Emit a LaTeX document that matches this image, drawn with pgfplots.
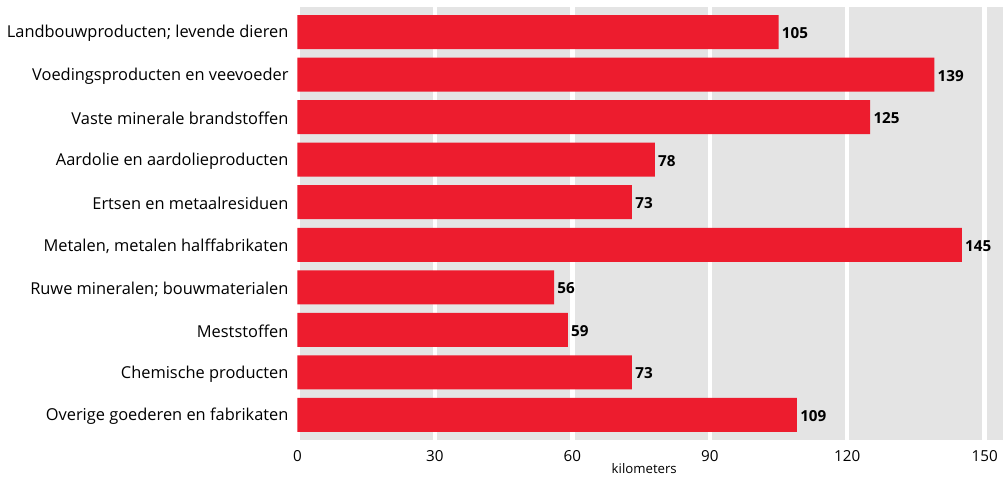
\documentclass[border=0pt]{standalone}
\usepackage{fontspec}
\setmainfont{Open Sans}
\usepackage{pgfplots}
\pgfplotsset{compat=1.18}
\definecolor{barred}{RGB}{237,28,46}
\definecolor{bggrey}{RGB}{228,228,228}
\begin{document}
\begin{tikzpicture}
\begin{axis}[
  name=ax,
  xbar,
  bar width=17pt,
  scale only axis,
  width=352.75pt, height=216.5pt,
  xmin=0, xmax=154,
  ymin=-0.59, ymax=9.59,
  y dir=reverse,
  ytick={0,1,2,3,4,5,6,7,8,9},
  yticklabels={Landbouwproducten; levende dieren,Voedingsproducten en veevoeder,Vaste minerale brandstoffen,Aardolie en aardolieproducten,Ertsen en metaalresiduen,{Metalen, metalen halffabrikaten},Ruwe mineralen; bouwmaterialen,Meststoffen,Chemische producten,Overige goederen en fabrikaten},
  xtick={0,30,60,90,120,150},
  axis background/.style={fill=bggrey},
  axis line style={draw=none},
  major tick length=0pt,
  xmajorgrids,
  grid style={white, line width=2.2pt},
  tick label style={font=\fontsize{7.6}{9}\selectfont, text=black},
  yticklabel style={font=\fontsize{8.2}{10}\selectfont, xshift=-1pt, yshift=-0.8pt},
  xticklabel style={yshift=-1.5pt},
  /pgf/number format/assume math mode=true,
  xlabel={kilometers},
  xlabel style={font=\fontsize{6.6}{8}\selectfont, yshift=6pt, xshift=-3pt},
  nodes near coords,
  nodes near coords style={font=\fontsize{7.6}{9}\selectfont\bfseries, text=black, anchor=west, inner sep=1.5pt, yshift=-0.5pt},
  clip=false,
]
\addplot[fill=barred, draw=none] coordinates {
(105,0) (139,1) (125,2) (78,3) (73,4) (145,5) (56,6) (59,7) (73,8) (109,9)
};
\end{axis}
\pgfresetboundingbox
\path ([xshift=-148.75pt, yshift=-20pt]ax.south west) rectangle ([yshift=3.5pt]ax.north east);
\end{tikzpicture}
\end{document}
